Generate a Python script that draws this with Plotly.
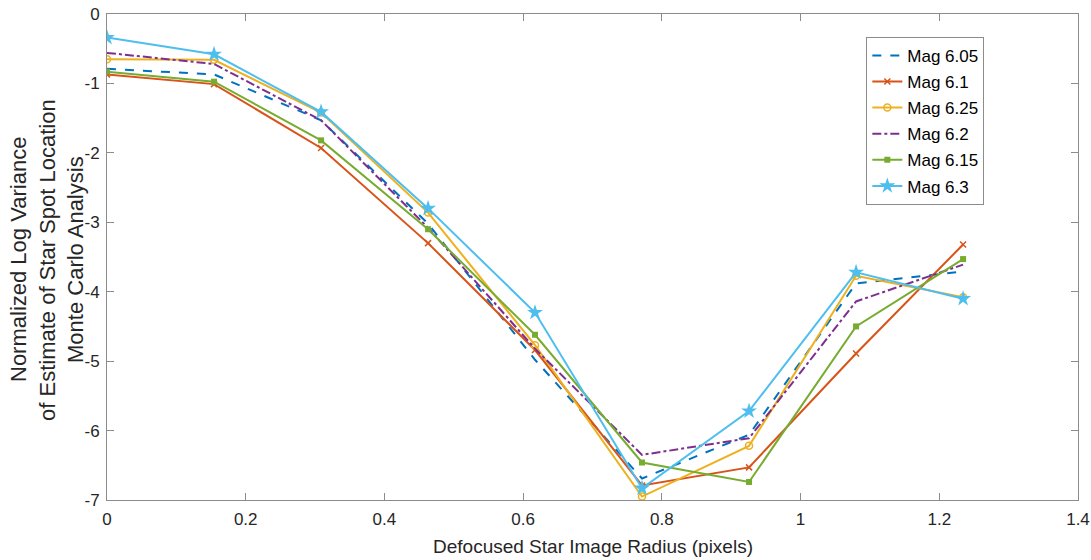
import plotly.graph_objects as go

x_vals = [0.0, 0.1543, 0.3086, 0.4629, 0.6171, 0.7714, 0.9257, 1.08, 1.2343]

mag_605 = [-0.79, -0.87, -1.53, -3.02, -4.98, -6.69, -6.06, -3.88, -3.71]
mag_610 = [-0.87, -1.01, -1.93, -3.30, -4.84, -6.79, -6.53, -4.89, -3.32]
mag_625 = [-0.65, -0.66, -1.42, -2.86, -4.77, -6.95, -6.22, -3.77, -4.08]
mag_620 = [-0.56, -0.72, -1.53, -3.08, -4.82, -6.35, -6.11, -4.14, -3.61]
mag_615 = [-0.83, -0.975, -1.82, -3.10, -4.62, -6.46, -6.74, -4.50, -3.53]
mag_630 = [-0.34, -0.58, -1.41, -2.80, -4.30, -6.83, -5.72, -3.72, -4.10]

names = ["Mag 6.05", "Mag 6.1", "Mag 6.25", "Mag 6.2", "Mag 6.15", "Mag 6.3"]

x_ticks = [0, 0.2, 0.4, 0.6, 0.8, 1, 1.2, 1.4]
x_ticktext = ["0", "0.2", "0.4", "0.6", "0.8", "1", "1.2", "1.4"]
y_ticks = [0, -1, -2, -3, -4, -5, -6, -7]
y_ticktext = ["0", "-1", "-2", "-3", "-4", "-5", "-6", "-7"]

x_title = "Defocused Star Image Radius (pixels)"
y_title_lines = ["Normalized Log Variance", "of Estimate of Star Spot Location", "Monte Carlo Analysis"]

fig = go.Figure()
fig.add_trace(go.Scatter(x=x_vals, y=mag_605, name=names[0], legendgroup="g0", mode="lines",
                         line=dict(color="#0072BD", width=2, dash="dash")))
fig.add_trace(go.Scatter(x=x_vals, y=mag_610, name=names[1], legendgroup="g1", mode="lines+markers",
                         line=dict(color="#D95319", width=2),
                         marker=dict(symbol="x-thin", size=6, line=dict(color="#D95319", width=1.5))))
fig.add_trace(go.Scatter(x=x_vals, y=mag_625, name=names[2], legendgroup="g2", mode="lines+markers",
                         line=dict(color="#EDB120", width=2),
                         marker=dict(symbol="circle-open", size=7, line=dict(color="#EDB120", width=1.5))))
fig.add_trace(go.Scatter(x=x_vals, y=mag_620, name=names[3], legendgroup="g3", mode="lines",
                         line=dict(color="#7E2F8E", width=2, dash="dashdot")))
fig.add_trace(go.Scatter(x=x_vals, y=mag_615, name=names[4], legendgroup="g4", mode="lines+markers",
                         line=dict(color="#77AC30", width=2),
                         marker=dict(symbol="square", size=6, color="#77AC30")))
fig.add_trace(go.Scatter(x=x_vals, y=mag_630, name=names[5], legendgroup="g5", mode="lines+markers",
                         line=dict(color="#4DBEEE", width=2),
                         marker=dict(symbol="star", size=12, color="#4DBEEE")))

axis_common = dict(
    showgrid=False, zeroline=False, showline=True, linecolor="#8c8c8c", linewidth=1,
    mirror="ticks", ticks="inside", ticklen=7, tickcolor="#8c8c8c", automargin=False,
    tickfont=dict(family="Liberation Sans, Arial", size=17, color="#262626"),
)

annotations = [
    dict(text=x_title, xref="paper", yref="paper", x=0.5, y=0, xanchor="center",
         yanchor="middle", yshift=-46, showarrow=False,
         font=dict(size=19, color="#262626")),
]
for line_text, shift in zip(y_title_lines, [-89, -60, -32]):
    annotations.append(dict(text=line_text, xref="paper", yref="paper", x=0, y=0.5,
                            xanchor="center", yanchor="middle", xshift=shift, yshift=-3,
                            textangle=-90, showarrow=False,
                            font=dict(size=22, color="#262626")))

fig.update_layout(
    width=1091, height=560,
    margin=dict(l=107, r=13, t=14, b=60),
    paper_bgcolor="white", plot_bgcolor="white",
    font=dict(family="Liberation Sans, Arial", color="#262626"),
    xaxis=dict(range=[0, 1.4], tickvals=x_ticks, ticktext=x_ticktext, ticklabelstandoff=4,
               **axis_common),
    yaxis=dict(range=[-7, 0], tickvals=y_ticks, ticktext=y_ticktext, ticklabelstandoff=3,
               **axis_common),
    legend=dict(x=0.782, y=0.953, xanchor="left", yanchor="top",
                bgcolor="white", bordercolor="#8c8c8c", borderwidth=1,
                font=dict(size=17, color="#000000"), tracegroupgap=1,
                itemwidth=30),
    annotations=annotations,
    showlegend=True,
)

fig.write_html("out.html")
